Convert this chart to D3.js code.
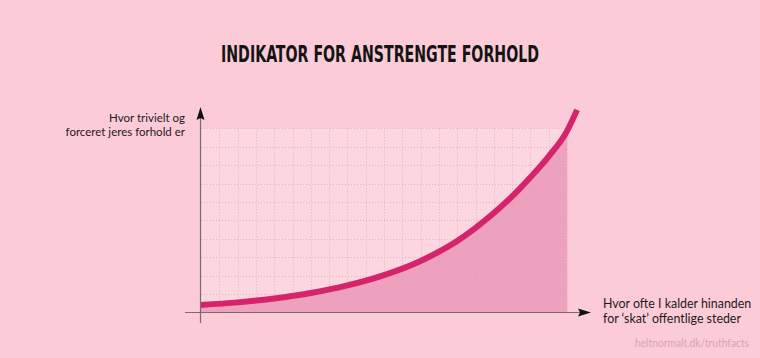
<!DOCTYPE html>
<html>
<head>
<meta charset="utf-8">
<script src="https://cdn.jsdelivr.net/npm/d3@7"></script>
<style>
  html, body { margin: 0; padding: 0; background: #fbccd7; }
  svg { display: block; }
</style>
</head>
<body>
<svg width="760" height="358"></svg>
<script>
// curve: x in grid columns, y in grid rows
const xSteps = [0, 2, 4, 6, 8, 10, 12, 14, 16, 17, 18, 19, 20, 20.55];
const yValues = [0.41, 0.55, 0.76, 1.06, 1.47, 2.03, 2.8, 3.88, 5.4, 6.3, 7.34, 8.48, 9.85, 11.0];
const gridCols = d3.range(0, 21);
const gridRows = d3.range(0, 11);
const title = "INDIKATOR FOR ANSTRENGTE FORHOLD";
const yLabel = ["Hvor trivielt og", "forceret jeres forhold er"];
const xLabel = ["Hvor ofte I kalder hinanden", "for \u2018skat\u2019 offentlige steder"];
const credit = "heltnormalt.dk/truthfacts";

const data = xSteps.map((d, i) => ({x: d, y: yValues[i]}));

const svg = d3.select("svg");

// scales
const x = d3.scaleLinear().domain([0, 20]).range([201, 567]);
const y = d3.scaleLinear().domain([0, 10]).range([312.5, 128.3]);

// background
svg.append("rect").attr("width", 760).attr("height", 358).attr("fill", "#fbccd7");

// lighter panel
svg.append("rect")
    .attr("x", x(0)).attr("y", y(10))
    .attr("width", x(20) - x(0)).attr("height", y(0) - y(10))
    .attr("fill", "#fcd7e0");

// area under curve, clipped at the panel edge
svg.append("clipPath").attr("id", "panel")
  .append("rect")
    .attr("x", x(0)).attr("y", 0)
    .attr("width", x(20) - x(0)).attr("height", y(0));

const area = d3.area()
    .x(d => x(d.x))
    .y0(y(0))
    .y1(d => y(d.y))
    .curve(d3.curveMonotoneX);

svg.append("path")
    .datum(data)
    .attr("d", area)
    .attr("clip-path", "url(#panel)")
    .attr("fill", "#eea1bd");

// dotted grid
const grid = svg.append("g")
    .attr("stroke", "#dd9fb2")
    .attr("stroke-width", 1)
    .attr("stroke-dasharray", "1,2")
    .attr("opacity", 0.7);

grid.selectAll(".v").data(gridCols.slice(1)).enter().append("line")
    .attr("x1", d => Math.round(x(d)) + 0.5).attr("x2", d => Math.round(x(d)) + 0.5)
    .attr("y1", y(10)).attr("y2", y(0));

grid.selectAll(".h").data(gridRows.slice(1)).enter().append("line")
    .attr("x1", x(0)).attr("x2", x(20))
    .attr("y1", d => Math.round(y(d)) + 0.5).attr("y2", d => Math.round(y(d)) + 0.5);

// the curve
const line = d3.line()
    .x(d => x(d.x))
    .y(d => y(d.y))
    .curve(d3.curveMonotoneX);

svg.append("path")
    .datum(data)
    .attr("d", line)
    .attr("fill", "none")
    .attr("stroke", "#d6246c")
    .attr("stroke-width", 6);

// axes
const axisColor = "#7a6a70";
svg.append("line")
    .attr("x1", 200.5).attr("x2", 200.5)
    .attr("y1", 323).attr("y2", 115)
    .attr("stroke", axisColor).attr("stroke-width", 1.2);
svg.append("line")
    .attr("x1", 185).attr("x2", 582)
    .attr("y1", 312.5).attr("y2", 312.5)
    .attr("stroke", axisColor).attr("stroke-width", 1.2);

// arrow heads
svg.append("path")
    .attr("d", "M200.5,107 L204.5,120 L200.5,118 L196.5,120 Z")
    .attr("fill", "#111");
svg.append("path")
    .attr("d", "M591,312.5 L578,308.5 L580,312.5 L578,316.5 Z")
    .attr("fill", "#111");

// title
svg.append("text")
    .attr("x", 221).attr("y", 62)
    .attr("textLength", 318)
    .attr("lengthAdjust", "spacingAndGlyphs")
    .attr("font-family", "'Liberation Sans Narrow', 'DejaVu Sans Condensed', 'Roboto', sans-serif")
    .attr("font-weight", "bold")
    .attr("font-size", 23)
    .attr("fill", "#141414")
    .text(title);

// axis labels
const labelFont = "Lato, 'Open Sans', sans-serif";
svg.append("g").selectAll("text").data(yLabel).enter().append("text")
    .attr("x", 185)
    .attr("y", (d, i) => 122 + i * 13.5)
    .attr("text-anchor", "end")
    .attr("font-family", labelFont)
    .attr("font-size", 11.5)
    .attr("fill", "#1e1a1c")
    .text(d => d);

svg.append("g").selectAll("text").data(xLabel).enter().append("text")
    .attr("x", 603)
    .attr("y", (d, i) => 308 + i * 15)
    .attr("font-family", labelFont)
    .attr("font-size", 12.4)
    .attr("fill", "#1e1a1c")
    .text(d => d);

svg.append("text")
    .attr("x", 749).attr("y", 347)
    .attr("text-anchor", "end")
    .attr("textLength", 114)
    .attr("lengthAdjust", "spacingAndGlyphs")
    .attr("font-family", labelFont)
    .attr("font-size", 11)
    .attr("fill", "#d9a3b4")
    .text(credit);
</script>
</body>
</html>
